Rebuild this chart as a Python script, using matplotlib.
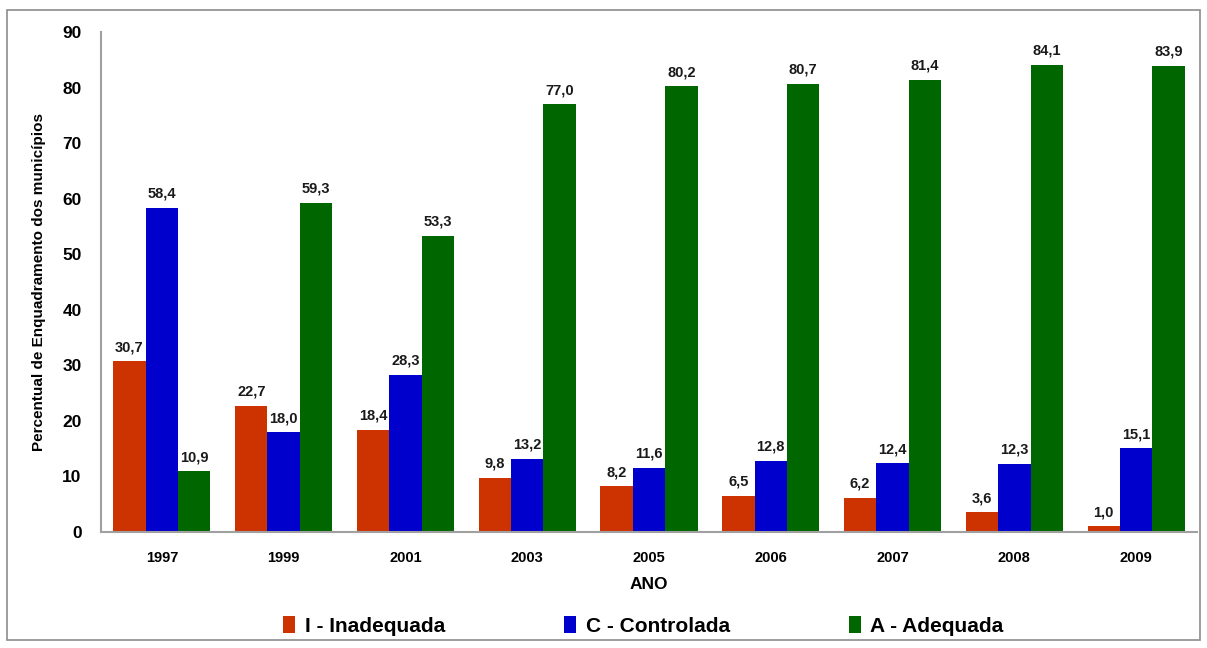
import matplotlib
matplotlib.use("Agg")
import matplotlib.pyplot as plt
import numpy as np
from matplotlib.patches import Rectangle

years = ["1997", "1999", "2001", "2003", "2005", "2006", "2007", "2008", "2009"]
inadequada = [30.7, 22.7, 18.4, 9.8, 8.2, 6.5, 6.2, 3.6, 1.0]
controlada = [58.4, 18.0, 28.3, 13.2, 11.6, 12.8, 12.4, 12.3, 15.1]
adequada = [10.9, 59.3, 53.3, 77.0, 80.2, 80.7, 81.4, 84.1, 83.9]
series_names = ["I - Inadequada", "C - Controlada", "A - Adequada"]
colors = ["#CC3300", "#0000CC", "#006600"]
y_ticks = [0, 10, 20, 30, 40, 50, 60, 70, 80, 90]

plt.rcParams["font.family"] = ["Liberation Sans", "DejaVu Sans"]

W, H = 1207, 648
fig = plt.figure(figsize=(W / 100, H / 100), dpi=100)
fig.patch.set_facecolor("white")

# outer chart border
fig.patches.append(Rectangle((7 / W, 1 - 640 / H), (1200 - 7) / W, (640 - 10) / H,
                             transform=fig.transFigure, fill=False,
                             edgecolor="#8C8C8C", linewidth=1.2))

ax = fig.add_axes([101 / W, 1 - 532 / H, (1197 - 101) / W, (532 - 32) / H])

x = np.arange(len(years))
bw = 0.266
for i, (vals, name, c) in enumerate(zip([inadequada, controlada, adequada], series_names, colors)):
    pos = x + (i - 1) * bw
    bars = ax.bar(pos, vals, width=bw, color=c, label=name, edgecolor="none")
    for b, v in zip(bars, vals):
        ax.annotate(f"{v:.1f}".replace(".", ","),
                    (b.get_x() + b.get_width() / 2, v),
                    xytext=(0, 5), textcoords="offset points",
                    ha="center", va="bottom", fontsize=10.5, fontweight="bold",
                    color="#1a1a1a")

ax.set_xlim(-0.5, len(years) - 0.5)
ax.set_ylim(0, 90)
ax.set_yticks(y_ticks)
ax.set_yticklabels([str(t) for t in y_ticks], fontsize=12.5, fontweight="bold")
ax.set_xticks(x)
ax.set_xticklabels(years, fontsize=10.5, fontweight="bold")
ax.tick_params(axis="both", length=0)
ax.tick_params(axis="y", pad=14)
ax.tick_params(axis="x", pad=14)

for s in ["top", "right"]:
    ax.spines[s].set_visible(False)
for s in ["left", "bottom"]:
    ax.spines[s].set_color("#A0A0A0")
    ax.spines[s].set_linewidth(1.5)

ax.set_xlabel("ANO", fontsize=12.5, fontweight="bold", labelpad=8)
ax.set_ylabel("Percentual de Enquadramento dos municípios", fontsize=11,
              fontweight="bold", labelpad=12)

leg = fig.legend(loc="center", bbox_to_anchor=(0.533, 1 - 626 / H), ncol=3,
                 frameon=False, handlelength=0.6, handleheight=0.9,
                 handletextpad=0.45, columnspacing=5.7,
                 prop={"weight": "bold", "size": 15})

fig.savefig("out.png", dpi=100, facecolor="white")
